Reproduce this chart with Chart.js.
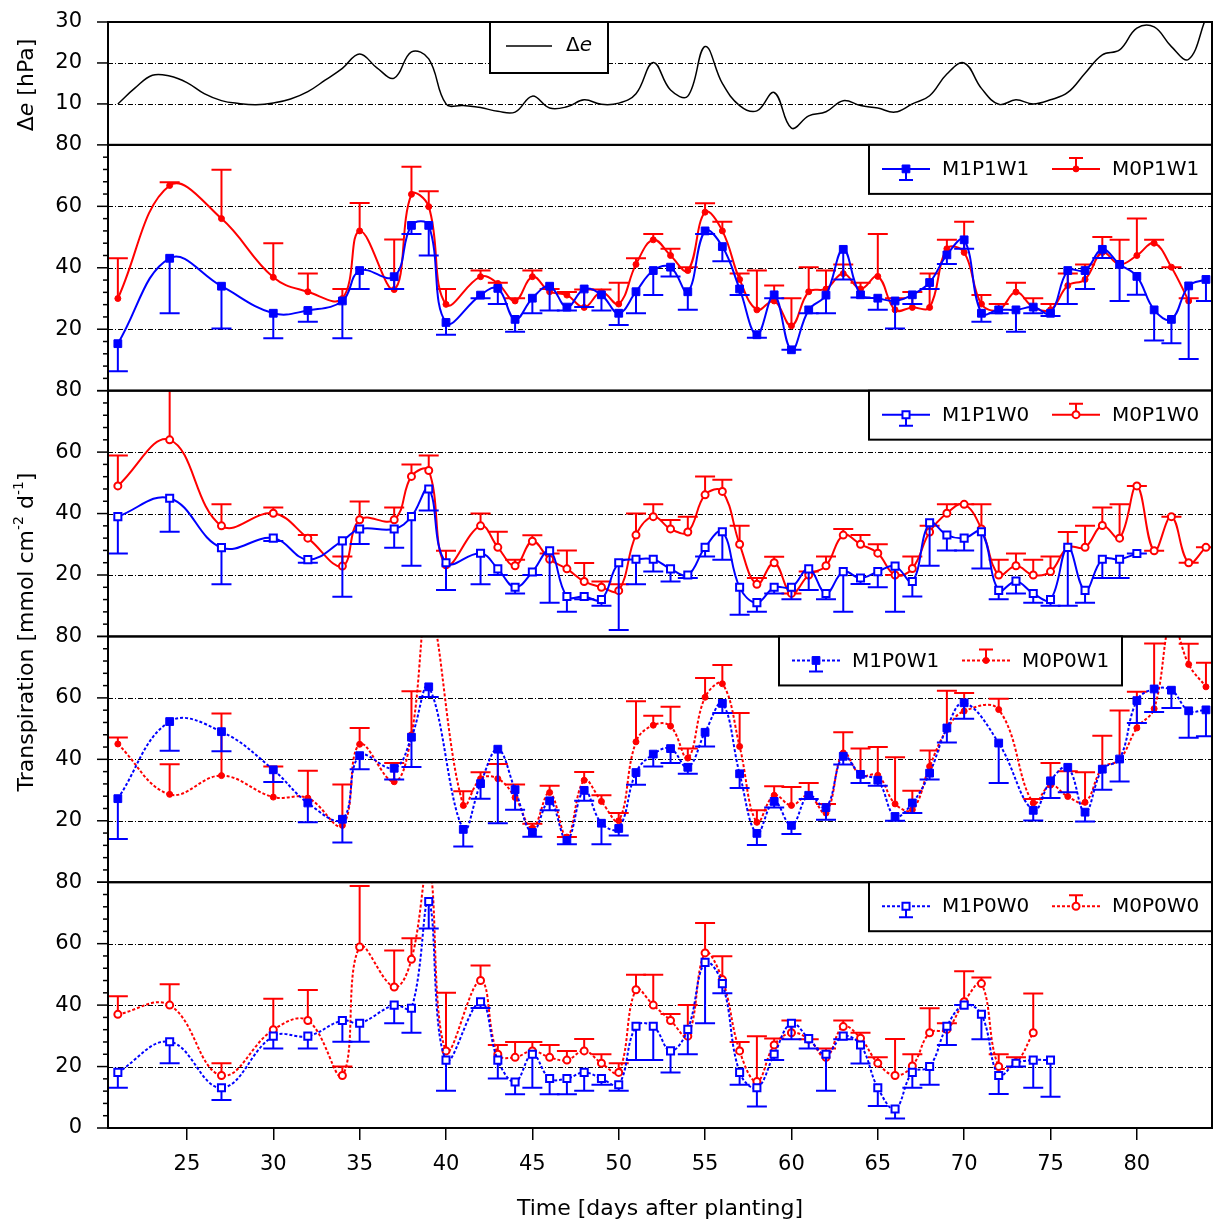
<!DOCTYPE html>
<html>
<head>
<meta charset="utf-8">
<script src="https://cdn.jsdelivr.net/npm/chart.js@4"></script>
<style>
  html, body { margin: 0; padding: 0; background: #fff; }
</style>
</head>
<body>
<canvas id="chart" width="1214" height="1225"></canvas>
<script>
// vapour pressure deficit, daily
const deDays = [21, 22, 23, 24, 25, 26, 27, 28, 29, 30, 31, 32, 33, 34, 35, 36, 37, 38, 39, 40,
  41, 42, 43, 44, 45, 46, 47, 48, 49, 50, 51, 52, 53, 54, 55, 56, 57, 58, 59, 60,
  61, 62, 63, 64, 65, 66, 67, 68, 69, 70, 71, 72, 73, 74, 75, 76, 77, 78, 79, 80,
  81, 82, 83, 84];
const deValues = [10.0, 13.9, 17.0, 16.8, 15.2, 12.5, 10.8, 10.1, 9.8, 10.2, 11.2, 13.0, 15.8, 18.7, 22.2, 18.8, 16.3, 22.7, 21.0, 10.0,
  9.6, 9.1, 8.2, 8.0, 11.9, 9.0, 9.3, 11.0, 9.9, 10.2, 12.5, 20.1, 13.4, 11.9, 24.0, 15.0, 9.6, 8.3, 12.8, 4.1,
  7.1, 8.1, 10.8, 9.6, 9.0, 8.0, 10.0, 12.0, 17.3, 20.0, 13.8, 9.9, 11.0, 10.0, 11.0, 12.8, 17.5, 22.0, 23.2, 28.5,
  28.8, 24.0, 20.9, 31.0];

// measurement days per treatment group
const daysP1 = [21, 24, 27, 30, 32, 34, 35, 37, 38, 39, 40,
  42, 43, 44, 45, 46, 47, 48, 49, 50, 51, 52, 53, 54, 55, 56, 57, 58, 59, 60, 61, 62, 63,
  64, 65, 66, 67, 68, 69, 70, 71, 72, 73, 74, 75, 76, 77, 78, 79, 80, 81, 82, 83, 84];
const daysP0W1 = [21, 24, 27, 30, 32, 34, 35, 37, 38, 39, 41,
  42, 43, 44, 45, 46, 47, 48, 49, 50, 51, 52, 53, 54, 55, 56, 57, 58, 59, 60, 61, 62, 63,
  64, 65, 66, 67, 68, 69, 70, 72, 74, 75, 76, 77, 78, 79, 80, 81, 82, 83, 84];
const daysP0W0 = [21, 24, 27, 30, 32, 34, 35, 37, 38, 39, 40,
  42, 43, 44, 45, 46, 47, 48, 49, 50, 51, 52, 53, 54, 55, 56, 57, 58, 59, 60, 61, 62, 63,
  64, 65, 66, 67, 68, 69, 70, 71, 72, 73, 74, 75];

// transpiration means, lower / upper ends of the deviation bars
const m1p1w1 = [15.3, 43.1, 34.0, 25.2, 26.1, 29.2, 39.1, 37.1, 53.8, 53.8, 22.2,
  31.1, 33.3, 23.2, 30.1, 34.0, 27.2, 33.1, 31.2, 25.2, 32.2, 39.1, 40.2, 32.2, 52.0, 46.9, 33.1, 18.2, 31.2, 13.3, 26.3, 31.1, 46.0,
  31.2, 30.1, 29.2, 31.2, 35.2, 44.2, 49.1, 25.2, 26.3, 26.3, 27.2, 25.2, 39.1, 39.1, 46.0, 41.1, 37.2, 26.3, 23.2, 34.1, 36.2];
const m1p1w1Lo = [6.3, 25.2, 20.2, 17.1, 22.4, 17.1, 33.1, 33.1, 51.0, 44.0, 18.2,
  30.1, 28.2, 19.2, 25.2, 26.1, 26.1, 27.2, 26.1, 21.4, 25.2, 31.1, 37.2, 26.3, 51.0, 42.1, 31.1, 17.2, 30.1, 13.3, 25.2, 25.2, 36.2,
  30.3, 26.3, 20.2, 28.2, 33.1, 41.2, 46.2, 22.4, 25.2, 19.2, 25.2, 24.3, 28.2, 33.1, 43.2, 29.2, 31.2, 16.3, 15.4, 10.3, 29.2];
const m0p1w1 = [30.0, 66.8, 56.0, 36.9, 32.2, 30.0, 52.0, 32.9, 63.9, 59.9, 28.1,
  37.1, 34.9, 29.2, 37.1, 32.2, 31.1, 27.1, 32.1, 28.2, 41.1, 49.1, 44.0, 39.1, 58.1, 52.0, 36.2, 26.3, 29.2, 21.1, 32.2, 33.1, 38.1,
  33.1, 37.2, 26.3, 27.1, 27.1, 46.2, 45.0, 28.2, 26.3, 32.1, 27.2, 26.3, 34.2, 36.2, 45.0, 41.1, 44.0, 48.0, 40.2, 29.2, null];
const m0p1w1Hi = [43.1, 67.8, 71.9, 48.0, 38.1, 33.1, 61.1, 49.2, 72.9, 64.9, 33.1,
  39.1, 35.1, 30.1, 39.1, 33.1, 32.1, 32.9, 32.9, 35.1, 43.1, 51.0, 46.2, 40.2, 61.0, 55.0, 38.1, 39.1, 34.2, 30.1, 40.2, 39.1, 41.1,
  35.1, 51.0, 30.1, 32.1, 38.1, 49.1, 55.0, 31.1, 28.2, 35.1, 30.1, 28.2, 38.1, 41.1, 50.0, 49.1, 56.0, 49.1, 40.2, 30.1, null];

const m1p1w0 = [39.0, 45.0, 28.9, 32.0, 25.0, 31.1, 35.0, 35.0, 39.0, 48.0, 24.0,
  27.1, 22.0, 16.0, 21.0, 27.9, 13.0, 13.0, 12.0, 24.0, 25.1, 25.1, 22.0, 20.0, 29.0, 34.1, 16.0, 11.0, 16.0, 16.0, 22.0, 14.0, 21.1,
  19.0, 21.1, 22.9, 17.9, 37.0, 33.0, 32.0, 34.1, 15.0, 18.0, 14.0, 12.0, 29.0, 15.0, 25.1, 25.1, 27.0, null, null, null, null];
const m1p1w0Lo = [27.0, 34.1, 17.0, 31.1, 24.0, 12.9, 30.1, 28.9, 23.0, 41.0, 15.1,
  17.0, 20.0, 14.0, 20.0, 11.0, 8.0, 12.1, 10.0, 2.1, 17.0, 21.1, 17.9, 19.0, 26.0, 25.0, 7.1, 8.0, 14.0, 12.1, 15.1, 12.1, 8.0,
  17.1, 16.0, 8.0, 13.0, 23.0, 28.0, 28.0, 22.1, 12.1, 14.0, 11.0, 10.0, 10.0, 11.0, 19.0, 19.0, 27.0, null, null, null, null];
const m0p1w0 = [49.0, 64.0, 36.0, 40.1, 32.0, 22.9, 38.0, 38.0, 52.1, 54.0, 23.3,
  36.0, 29.0, 23.0, 31.0, 25.1, 22.0, 17.9, 16.0, 14.9, 33.0, 39.0, 35.0, 34.0, 46.1, 47.2, 30.0, 17.0, 24.0, 14.0, 20.0, 23.0, 33.0,
  30.0, 27.1, 20.0, 22.1, 34.0, 40.1, 43.0, 35.0, 20.0, 23.0, 20.0, 21.1, 29.0, 29.0, 36.1, 32.0, 49.0, 27.9, 39.0, 24.0, 29.0];
const m0p1w0Hi = [58.9, 80.1, 43.0, 42.0, 33.0, 26.0, 43.9, 42.0, 56.0, 58.9, 27.9,
  40.0, 34.1, 25.0, 32.9, 27.0, 28.0, 23.9, 17.9, 17.0, 40.0, 43.0, 37.9, 39.0, 52.1, 51.0, 36.0, 19.0, 25.9, 14.0, 21.1, 26.0, 35.0,
  33.0, 30.0, 20.0, 26.0, 36.0, 43.0, 43.0, 43.0, 25.0, 27.0, 25.0, 26.0, 34.0, 36.0, 42.0, 43.0, 49.0, 27.9, 39.0, 24.0, 29.0];

const m1p0w1 = [27.2, 52.3, 49.0, 36.6, 25.8, 20.5, 41.2, 37.1, 47.2, 63.6, 17.2,
  32.1, 43.3, 30.1, 16.2, 26.5, 13.6, 29.9, 19.2, 17.5, 35.7, 41.7, 43.5, 37.4, 48.8, 58.2, 35.3, 15.9, 26.3, 18.5, 28.3, 24.3, 41.0,
  35.1, 33.2, 21.4, 25.8, 35.5, 50.2, 58.4, 45.3, 23.4, 33.0, 37.4, 22.8, 36.8, 40.1, 59.1, 62.9, 62.5, 55.8, 56.1];
const m1p0w1Lo = [14.1, 42.8, 42.6, 32.6, 19.5, 12.9, 36.8, 33.4, 37.5, 60.3, 11.6,
  27.2, 19.2, 23.6, 14.8, 23.4, 12.4, 26.5, 12.4, 15.2, 31.7, 37.7, 38.8, 35.3, 44.2, 55.1, 30.7, 12.1, 24.3, 15.7, 27.1, 20.3, 38.3,
  32.3, 31.4, 20.0, 22.5, 33.4, 45.5, 53.2, 32.3, 20.1, 27.4, 29.3, 19.8, 30.1, 32.8, 51.8, 55.4, 56.7, 47.0, 47.5];
const m0p0w1 = [45.0, 28.6, 34.7, 27.7, 27.4, 18.5, 44.9, 32.7, 48.0, 90.0, 25.0,
  33.7, 33.7, 27.6, 17.6, 29.2, 14.7, 33.2, 26.3, 20.0, 45.7, 51.1, 50.8, 40.4, 60.2, 64.6, 44.2, 19.5, 28.3, 25.0, 28.3, 22.5, 42.1,
  34.8, 34.8, 25.5, 23.6, 37.7, 49.7, 55.7, 56.2, 25.8, 31.6, 27.9, 26.0, 37.2, 39.9, 50.2, 56.5, 85.0, 70.9, 63.6];
const m0p0w1Hi = [47.1, 38.4, 54.9, 37.7, 36.3, 31.8, 50.2, 38.8, 62.2, null, 29.6,
  35.8, 38.5, 31.8, 19.0, 31.4, 14.7, 35.9, 28.3, 22.5, 58.9, 54.2, 57.1, 43.5, 66.5, 70.7, 55.1, 23.4, 31.2, 31.0, 32.3, 25.5, 48.8,
  43.5, 44.0, 40.7, 29.8, 42.9, 62.3, 61.6, 59.7, 27.1, 38.8, 36.1, 35.8, 47.7, 55.9, 62.0, 77.7, null, 77.6, 71.4];

const m1p0w0 = [18.1, 28.1, 13.1, 29.9, 29.9, 35.0, 34.1, 40.0, 39.0, 73.7, 22.1,
  41.1, 22.1, 15.0, 24.0, 16.1, 16.1, 18.1, 16.1, 14.1, 33.1, 33.1, 25.1, 32.1, 53.9, 47.0, 18.1, 13.1, 24.0, 34.1, 29.1, 24.0, 29.9,
  27.0, 13.1, 6.2, 18.1, 20.0, 33.1, 40.0, 37.0, 17.1, 21.1, 22.1, 22.1];
const m1p0w0Lo = [13.1, 21.1, 9.1, 25.9, 25.9, 28.1, 28.1, 34.1, 31.0, 64.9, 12.1,
  39.1, 16.1, 11.0, 13.1, 11.0, 11.0, 12.1, 14.1, 12.1, 22.1, 22.1, 18.1, 24.0, 34.1, 43.9, 14.1, 7.0, 22.1, 28.9, 25.9, 12.1, 28.9,
  21.0, 7.2, 3.1, 13.1, 14.1, 27.0, 40.0, 28.9, 11.1, 20.0, 13.1, 10.2];
const m0p0w0 = [37.0, 40.0, 17.1, 32.0, 35.0, 17.1, 58.9, 45.9, 54.9, 86.0, 25.1,
  48.0, 24.0, 23.0, 25.1, 23.0, 22.1, 25.1, 21.1, 18.1, 45.0, 40.0, 35.0, 29.9, 57.0, 48.3, 25.1, 15.1, 27.0, 31.0, 28.9, 23.0, 33.0,
  29.2, 21.1, 17.1, 20.2, 31.0, 32.1, 41.1, 47.0, 20.0, 21.3, 31.0, null];
const m0p0w0Hi = [42.9, 46.8, 21.1, 42.1, 44.9, 20.0, 78.8, 57.8, 61.8, null, 44.0,
  52.9, 27.0, 28.0, 28.0, 27.0, 25.1, 29.0, 24.0, 21.1, 49.9, 49.9, 37.1, 40.0, 66.7, 55.9, 28.0, 29.9, 29.1, 35.0, 28.9, 25.9, 35.0,
  31.0, 23.0, 29.0, 24.0, 39.0, 34.1, 51.0, 49.0, 24.0, 23.0, 43.8, null];

const BLUE = '#0000ff';
const RED = '#ff0000';
const FONT = 'DejaVu Sans';

Chart.defaults.font.family = FONT;
Chart.defaults.color = '#000';

function toPoints(days, vals, errs) {
  const out = [];
  days.forEach(function(d, i) {
    if (vals[i] === null) return;
    out.push({ x: d, y: vals[i], e: errs ? errs[i] : null });
  });
  return out;
}

function series(label, axis, days, vals, errs, color, st) {
  return {
    label: label,
    yAxisID: axis,
    data: toPoints(days, vals, errs),
    borderColor: color,
    borderWidth: 2,
    borderDash: st.dotted ? [3, 2] : [],
    tension: 0.4,
    pointStyle: st.marker,
    pointRadius: st.radius,
    pointBorderWidth: st.open ? 2 : 1,
    pointBorderColor: color,
    pointBackgroundColor: st.open ? '#fff' : color,
    errColor: color
  };
}

const sqFill = { marker: 'rect', radius: 5.5 };
const dotFill = { marker: 'circle', radius: 3 };
const sqOpen = { marker: 'rect', radius: 5, open: true };
const dotOpen = { marker: 'circle', radius: 3.5, open: true };

const datasets = [
  {
    label: 'Δe', yAxisID: 'yE',
    data: toPoints(deDays, deValues),
    borderColor: '#000', borderWidth: 1.5, tension: 0.4, pointRadius: 0
  },
  series('M1P1W1', 'y1', daysP1, m1p1w1, m1p1w1Lo, BLUE, sqFill),
  series('M0P1W1', 'y1', daysP1, m0p1w1, m0p1w1Hi, RED, dotFill),
  series('M1P1W0', 'y2', daysP1, m1p1w0, m1p1w0Lo, BLUE, sqOpen),
  series('M0P1W0', 'y2', daysP1, m0p1w0, m0p1w0Hi, RED, dotOpen),
  series('M1P0W1', 'y3', daysP0W1, m1p0w1, m1p0w1Lo, BLUE, Object.assign({ dotted: true }, sqFill)),
  series('M0P0W1', 'y3', daysP0W1, m0p0w1, m0p0w1Hi, RED, Object.assign({ dotted: true }, dotFill)),
  series('M1P0W0', 'y4', daysP0W0, m1p0w0, m1p0w0Lo, BLUE, Object.assign({ dotted: true }, sqOpen)),
  series('M0P0W0', 'y4', daysP0W0, m0p0w0, m0p0w0Hi, RED, Object.assign({ dotted: true }, dotOpen))
];

// panel legends: two entries each, box offset from the right edge
const legends = [
  { axis: 'y1', shift: 0, dotted: false, items: [['M1P1W1', BLUE, sqFill, 1], ['M0P1W1', RED, dotFill, -1]] },
  { axis: 'y2', shift: 0, dotted: false, items: [['M1P1W0', BLUE, sqOpen, 1], ['M0P1W0', RED, dotOpen, -1]] },
  { axis: 'y3', shift: 90, dotted: true, items: [['M1P0W1', BLUE, sqFill, 1], ['M0P0W1', RED, dotFill, -1]] },
  { axis: 'y4', shift: 0, dotted: true, items: [['M1P0W0', BLUE, sqOpen, 1], ['M0P0W0', RED, dotOpen, -1]] }
];

const gridLines = { yE: [10, 20], y1: [20, 40, 60], y2: [20, 40, 60], y3: [20, 40, 60], y4: [20, 40, 60] };

function yAxis(max, step, weight, stackWeight, showZero) {
  return {
    type: 'linear',
    position: 'left',
    stack: 'panels',
    stackWeight: stackWeight,
    weight: weight,
    min: 0,
    max: max,
    afterFit: function(s) {
      s.width = 108;
      s.paddingTop = 0;
      s.paddingBottom = 0;
    },
    ticks: {
      stepSize: step,
      padding: 26,
      autoSkip: false,
      font: { size: 21 },
      color: '#000',
      callback: function(v) { return (v === 0 && !showZero) ? '' : v; }
    },
    grid: { display: false, drawTicks: false },
    border: { display: false }
  };
}

function drawMarker(ctx, x, y, color, st) {
  ctx.save();
  ctx.setLineDash([]);
  ctx.strokeStyle = color;
  ctx.fillStyle = st.open ? '#fff' : color;
  ctx.lineWidth = st.open ? 2 : 1;
  ctx.beginPath();
  if (st.marker === 'rect') {
    const h = st.radius * Math.SQRT1_2;
    ctx.rect(x - h, y - h, 2 * h, 2 * h);
  } else {
    ctx.arc(x, y, st.radius, 0, Math.PI * 2);
  }
  ctx.fill();
  ctx.stroke();
  ctx.restore();
}

function drawVertical(ctx, cx, cy, parts) {
  ctx.save();
  ctx.translate(cx, cy);
  ctx.rotate(-Math.PI / 2);
  ctx.textBaseline = 'middle';
  ctx.textAlign = 'left';
  ctx.fillStyle = '#000';
  let total = 0;
  parts.forEach(function(p) { ctx.font = p.font; p.w = ctx.measureText(p.text).width; total += p.w; });
  let x = -total / 2;
  parts.forEach(function(p) { ctx.font = p.font; ctx.fillText(p.text, x, p.dy || 0); x += p.w; });
  ctx.restore();
}

const panelPlugin = {
  id: 'panels',
  beforeDatasetsDraw: function(chart) {
    const ctx = chart.ctx, area = chart.chartArea;
    ctx.save();
    ctx.strokeStyle = '#000';
    ctx.lineWidth = 1;
    ctx.setLineDash([5, 2, 1, 2]);
    Object.keys(gridLines).forEach(function(id) {
      const sc = chart.scales[id];
      gridLines[id].forEach(function(v) {
        const y = Math.round(sc.getPixelForValue(v)) + 0.5;
        ctx.beginPath();
        ctx.moveTo(area.left, y);
        ctx.lineTo(area.right, y);
        ctx.stroke();
      });
    });
    ctx.restore();
  },
  beforeDatasetDraw: function(chart, args) {
    const ctx = chart.ctx, area = chart.chartArea;
    const meta = args.meta;
    const ds = chart.data.datasets[args.index];
    const sc = meta.yScale;
    ctx.save();
    ctx.beginPath();
    ctx.rect(area.left, sc.top, area.right - area.left, sc.bottom - sc.top);
    ctx.clip();
    if (!ds.errColor) return;
    // one-sided deviation bars with caps
    ctx.save();
    ctx.strokeStyle = ds.errColor;
    ctx.lineWidth = 2;
    ctx.setLineDash([]);
    meta.data.forEach(function(pt, i) {
      const e = ds.data[i].e;
      if (e === null || e === undefined) return;
      const ye = sc.getPixelForValue(e);
      ctx.beginPath();
      ctx.moveTo(pt.x, pt.y);
      ctx.lineTo(pt.x, ye);
      ctx.moveTo(pt.x - 10, ye);
      ctx.lineTo(pt.x + 10, ye);
      ctx.stroke();
    });
    ctx.restore();
  },
  afterDatasetDraw: function(chart) {
    chart.ctx.restore();
  },
  afterDraw: function(chart) {
    const ctx = chart.ctx, area = chart.chartArea;
    const w = area.right - area.left;
    ctx.save();
    ctx.setLineDash([]);
    ctx.strokeStyle = '#000';

    // y tick marks, major every 20 and minor every 4
    ctx.lineWidth = 1.5;
    ['y1', 'y2', 'y3', 'y4'].forEach(function(id) {
      const sc = chart.scales[id];
      for (let v = 0; v <= 80; v += 4) {
        const y = sc.getPixelForValue(v);
        const len = v % 20 === 0 ? 11 : 5;
        ctx.beginPath();
        ctx.moveTo(area.left - len, y);
        ctx.lineTo(area.left, y);
        ctx.stroke();
      }
    });
    [10, 20, 30].forEach(function(v) {
      const y = chart.scales.yE.getPixelForValue(v);
      ctx.beginPath();
      ctx.moveTo(area.left - 11, y);
      ctx.lineTo(area.left, y);
      ctx.stroke();
    });

    // panel frames
    ctx.lineWidth = 2;
    ['yE', 'y1', 'y2', 'y3', 'y4'].forEach(function(id) {
      const sc = chart.scales[id];
      ctx.strokeRect(area.left, sc.top, w, sc.bottom - sc.top);
    });

    // axis titles
    const big = '22px "' + FONT + '"';
    const small = '14px "' + FONT + '"';
    drawVertical(ctx, 27, 85, [
      { text: 'Δ', font: big },
      { text: 'e', font: 'italic ' + big },
      { text: ' [hPa]', font: big }
    ]);
    drawVertical(ctx, 27, 632, [
      { text: 'Transpiration [mmol cm', font: big },
      { text: '-2', font: small, dy: -8 },
      { text: ' d', font: big },
      { text: '-1', font: small, dy: -8 },
      { text: ']', font: big }
    ]);

    // Δe legend
    const eTop = chart.scales.yE.top;
    ctx.fillStyle = '#fff';
    ctx.fillRect(490, eTop, 118, 51);
    ctx.strokeRect(490, eTop, 118, 51);
    ctx.lineWidth = 1.5;
    ctx.beginPath();
    ctx.moveTo(506, eTop + 24);
    ctx.lineTo(552, eTop + 24);
    ctx.stroke();
    ctx.fillStyle = '#000';
    ctx.textBaseline = 'middle';
    ctx.font = '20px "' + FONT + '"';
    ctx.fillText('Δ', 566, eTop + 24);
    const dw = ctx.measureText('Δ').width;
    ctx.font = 'italic 20px "' + FONT + '"';
    ctx.fillText('e', 566 + dw, eTop + 24);

    // treatment legends
    legends.forEach(function(lg) {
      const sc = chart.scales[lg.axis];
      const left = area.right - 343 - lg.shift;
      const top = sc.top;
      const cy = top + 24;
      ctx.lineWidth = 2;
      ctx.setLineDash([]);
      ctx.fillStyle = '#fff';
      ctx.fillRect(left, top, 343, 49);
      ctx.strokeStyle = '#000';
      ctx.strokeRect(left, top, 343, 49);
      lg.items.forEach(function(it, k) {
        const x0 = left + 13 + k * 170;
        const color = it[1];
        ctx.strokeStyle = color;
        ctx.lineWidth = 2;
        ctx.setLineDash(lg.dotted ? [3, 2] : []);
        ctx.beginPath();
        ctx.moveTo(x0, cy);
        ctx.lineTo(x0 + 48, cy);
        ctx.stroke();
        ctx.setLineDash([]);
        const ye = cy + 11 * it[3];
        ctx.beginPath();
        ctx.moveTo(x0 + 24, cy);
        ctx.lineTo(x0 + 24, ye);
        ctx.moveTo(x0 + 17, ye);
        ctx.lineTo(x0 + 31, ye);
        ctx.stroke();
        drawMarker(ctx, x0 + 24, cy, color, it[2]);
        ctx.fillStyle = '#000';
        ctx.font = '20px "' + FONT + '"';
        ctx.textBaseline = 'middle';
        ctx.fillText(it[0], x0 + 60, cy + 1);
      });
    });
    ctx.restore();
  }
};

new Chart(document.getElementById('chart').getContext('2d'), {
  type: 'line',
  data: { datasets: datasets },
  options: {
    responsive: false,
    devicePixelRatio: 1,
    animation: false,
    spanGaps: true,
    layout: { autoPadding: false, padding: { top: 22, right: 2, bottom: 0, left: 0 } },
    plugins: { legend: { display: false }, tooltip: { enabled: false } },
    scales: {
      x: {
        type: 'linear',
        position: 'bottom',
        min: 20.43,
        max: 84.35,
        afterFit: function(s) {
          s.height = 97;
          s.paddingLeft = 0;
          s.paddingRight = 0;
        },
        ticks: { stepSize: 5, includeBounds: false, padding: 12, font: { size: 21 }, color: '#000', maxRotation: 0, autoSkip: false },
        grid: { drawOnChartArea: false, drawTicks: true, tickLength: 12, color: '#000', lineWidth: 1.5 },
        border: { display: false },
        title: { display: true, text: 'Time [days after planting]', font: { size: 22 }, color: '#000', padding: { top: 0, bottom: 3 } }
      },
      yE: yAxis(30, 10, 5, 1, false),
      y1: yAxis(80, 20, 4, 2, false),
      y2: yAxis(80, 20, 3, 2, false),
      y3: yAxis(80, 20, 2, 2, false),
      y4: yAxis(80, 20, 1, 2, true)
    }
  },
  plugins: [panelPlugin]
});
</script>
</body>
</html>
